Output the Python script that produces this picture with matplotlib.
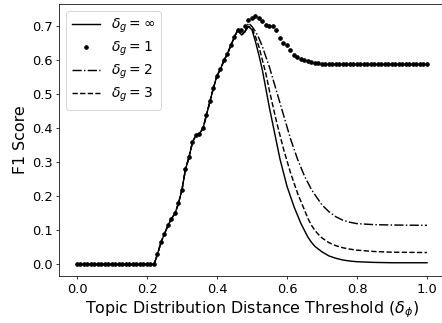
import matplotlib
matplotlib.use("Agg")
import matplotlib.pyplot as plt
import numpy as np

# threshold values (shared rising part + per-curve tails)
x_dots = np.round(np.arange(0, 101) * 0.01, 2)
f1_g1 = ([0.0] * 22 +
         [0.0, 0.03, 0.065, 0.09, 0.115, 0.135, 0.15, 0.18, 0.22, 0.28,
          0.315, 0.36, 0.38, 0.385, 0.40, 0.44, 0.48, 0.52, 0.555, 0.575,
          0.60, 0.62, 0.645, 0.67, 0.69, 0.69, 0.70, 0.72, 0.725, 0.73,
          0.725, 0.715, 0.705, 0.70, 0.70, 0.69, 0.665, 0.65, 0.645, 0.63,
          0.616, 0.609, 0.604, 0.60, 0.598, 0.596, 0.594, 0.592] +
         [0.59] * 31)

x_rise = [0.0, 0.21, 0.22, 0.23, 0.24, 0.25, 0.26, 0.27, 0.28, 0.29, 0.30,
          0.31, 0.32, 0.33, 0.34, 0.35, 0.36, 0.37, 0.38, 0.39, 0.40, 0.41,
          0.42, 0.43, 0.44, 0.45, 0.46]
f1_rise = [0.0, 0.0, 0.0, 0.03, 0.065, 0.09, 0.115, 0.135, 0.15, 0.18, 0.22,
           0.28, 0.315, 0.36, 0.38, 0.385, 0.40, 0.44, 0.48, 0.52, 0.555,
           0.575, 0.60, 0.62, 0.645, 0.67, 0.69]

x_tail = [0.47, 0.48, 0.49, 0.50, 0.51, 0.52, 0.53, 0.54, 0.55, 0.56, 0.57,
          0.58, 0.59, 0.60, 0.61, 0.62, 0.63, 0.64, 0.65, 0.66, 0.67, 0.68,
          0.69, 0.70, 0.72, 0.74, 0.76, 0.78, 0.80, 0.85, 0.90, 1.0]
f1_inf = [0.675, 0.685, 0.70, 0.69, 0.655, 0.615, 0.57, 0.515, 0.46, 0.41,
          0.36, 0.31, 0.27, 0.23, 0.2, 0.17, 0.145, 0.12, 0.10, 0.08, 0.065,
          0.053, 0.045, 0.037, 0.025, 0.018, 0.013, 0.01, 0.008, 0.006,
          0.005, 0.005]
f1_g3 = [0.675, 0.685, 0.70, 0.695, 0.67, 0.64, 0.60, 0.56, 0.51, 0.465,
         0.42, 0.38, 0.34, 0.305, 0.27, 0.24, 0.21, 0.185, 0.16, 0.135,
         0.115, 0.10, 0.088, 0.078, 0.064, 0.055, 0.049, 0.045, 0.042,
         0.038, 0.036, 0.035]
f1_g2 = [0.675, 0.685, 0.71, 0.70, 0.685, 0.665, 0.64, 0.61, 0.58, 0.545,
         0.51, 0.475, 0.44, 0.405, 0.37, 0.34, 0.31, 0.285, 0.26, 0.24,
         0.22, 0.205, 0.19, 0.175, 0.155, 0.14, 0.13, 0.124, 0.12, 0.117,
         0.116, 0.115]

fig = plt.figure(figsize=(442 / 69, 323 / 69), dpi=69)
ax = fig.add_axes([0.1346, 0.1455, 0.871, 0.842])

ax.plot(x_rise + x_tail, f1_rise + f1_inf, 'k-', label=r'$\delta_g = \infty$')
ax.plot(x_dots, f1_g1, 'k.', markersize=7.5, label=r'$\delta_g = 1$')
ax.plot(x_rise + x_tail, f1_rise + f1_g2, 'k-.', label=r'$\delta_g = 2$')
ax.plot(x_rise + x_tail, f1_rise + f1_g3, 'k--', label=r'$\delta_g = 3$')

ax.set_xlim(-0.05, 1.05)
ax.set_ylim(-0.034, 0.766)
ax.tick_params(labelsize=13.5)
ax.set_xlabel(r'Topic Distribution Distance Threshold ($\delta_\phi$)', fontsize=16.5)
ax.set_ylabel('F1 Score', fontsize=16.5)
ax.legend(loc='upper left', fontsize=14.5, labelspacing=0.35)

fig.savefig('out.png', dpi=69)
